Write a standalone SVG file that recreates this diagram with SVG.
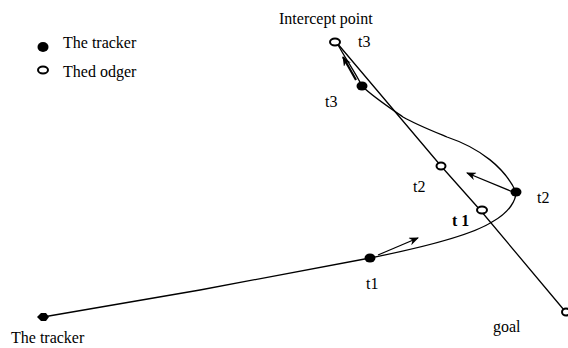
<svg xmlns="http://www.w3.org/2000/svg" width="568" height="348" viewBox="0 0 568 348">
<style>
text{font-family:"Liberation Serif","Times New Roman",serif;font-size:16px;fill:#000}
.ln{fill:none;stroke:#000;stroke-width:1.3}
.open{fill:#fff;stroke:#000;stroke-width:2}
.fill{fill:#000}
</style>
<defs>
<marker id="ah" markerWidth="10" markerHeight="8" refX="9" refY="4" orient="auto" markerUnits="userSpaceOnUse">
<path d="M0,0 L10,4 L0,8 L3,4 Z" fill="#000"/>
</marker>
</defs>
<rect width="568" height="348" fill="#fff"/>
<g id="connectors">
<path class="ln" d="M337,43 L441,166 L481,211 L564,310"/>
<path class="ln" d="M43,317 L200,290 L370,258 C420,248 470,236 492,222 C510,212 516,200 516,192 C505,168 480,148 447,137 C430,130 415,124 403,117 C390,108 372,96 362,86 C355,72 345,58 337,43"/>
<path class="ln" d="M378,255 L418,238" marker-end="url(#ah)"/>
<path class="ln" d="M513,192 L467,173" marker-end="url(#ah)"/>
<path d="M356,80 L343,57" fill="none" stroke="#000" stroke-width="2.2" marker-end="url(#ah)"/>
</g>
<g id="legend">
<ellipse class="fill" cx="43" cy="47" rx="5.5" ry="5"/>
<text x="63" y="48">The tracker</text>
<ellipse class="open" cx="43" cy="70" rx="5" ry="3.5"/>
<text x="63" y="77">Thed odger</text>
</g>
<g id="intercept">
<ellipse class="open" cx="335" cy="42" rx="5" ry="3.5"/>
<text x="279" y="24">Intercept point</text>
<text x="358" y="47">t3</text>
</g>
<g id="tracker-t3">
<ellipse class="fill" cx="362" cy="86" rx="5.5" ry="4.5"/>
<text x="325" y="107">t3</text>
</g>
<g id="dodger-t2">
<ellipse class="open" cx="441" cy="166" rx="4.5" ry="3.5"/>
<text x="413" y="192">t2</text>
</g>
<g id="tracker-t2">
<ellipse class="fill" cx="516" cy="192" rx="5.5" ry="4.5"/>
<text x="537" y="203">t2</text>
</g>
<g id="dodger-t1">
<ellipse class="open" cx="482" cy="210" rx="5" ry="3.5"/>
<text x="452" y="226" font-weight="bold">t 1</text>
</g>
<g id="tracker-t1">
<ellipse class="fill" cx="370" cy="258" rx="5.5" ry="4.5"/>
<text x="366" y="289">t1</text>
</g>
<g id="tracker-start">
<path class="fill" d="M37,317 L41,313 L46,313 L49,317 L46,321 L41,321 Z"/>
<text x="11" y="343">The tracker</text>
</g>
<g id="goal">
<ellipse class="open" cx="566" cy="312" rx="4" ry="3.5"/>
<text x="493" y="332">goal</text>
</g>
</svg>
